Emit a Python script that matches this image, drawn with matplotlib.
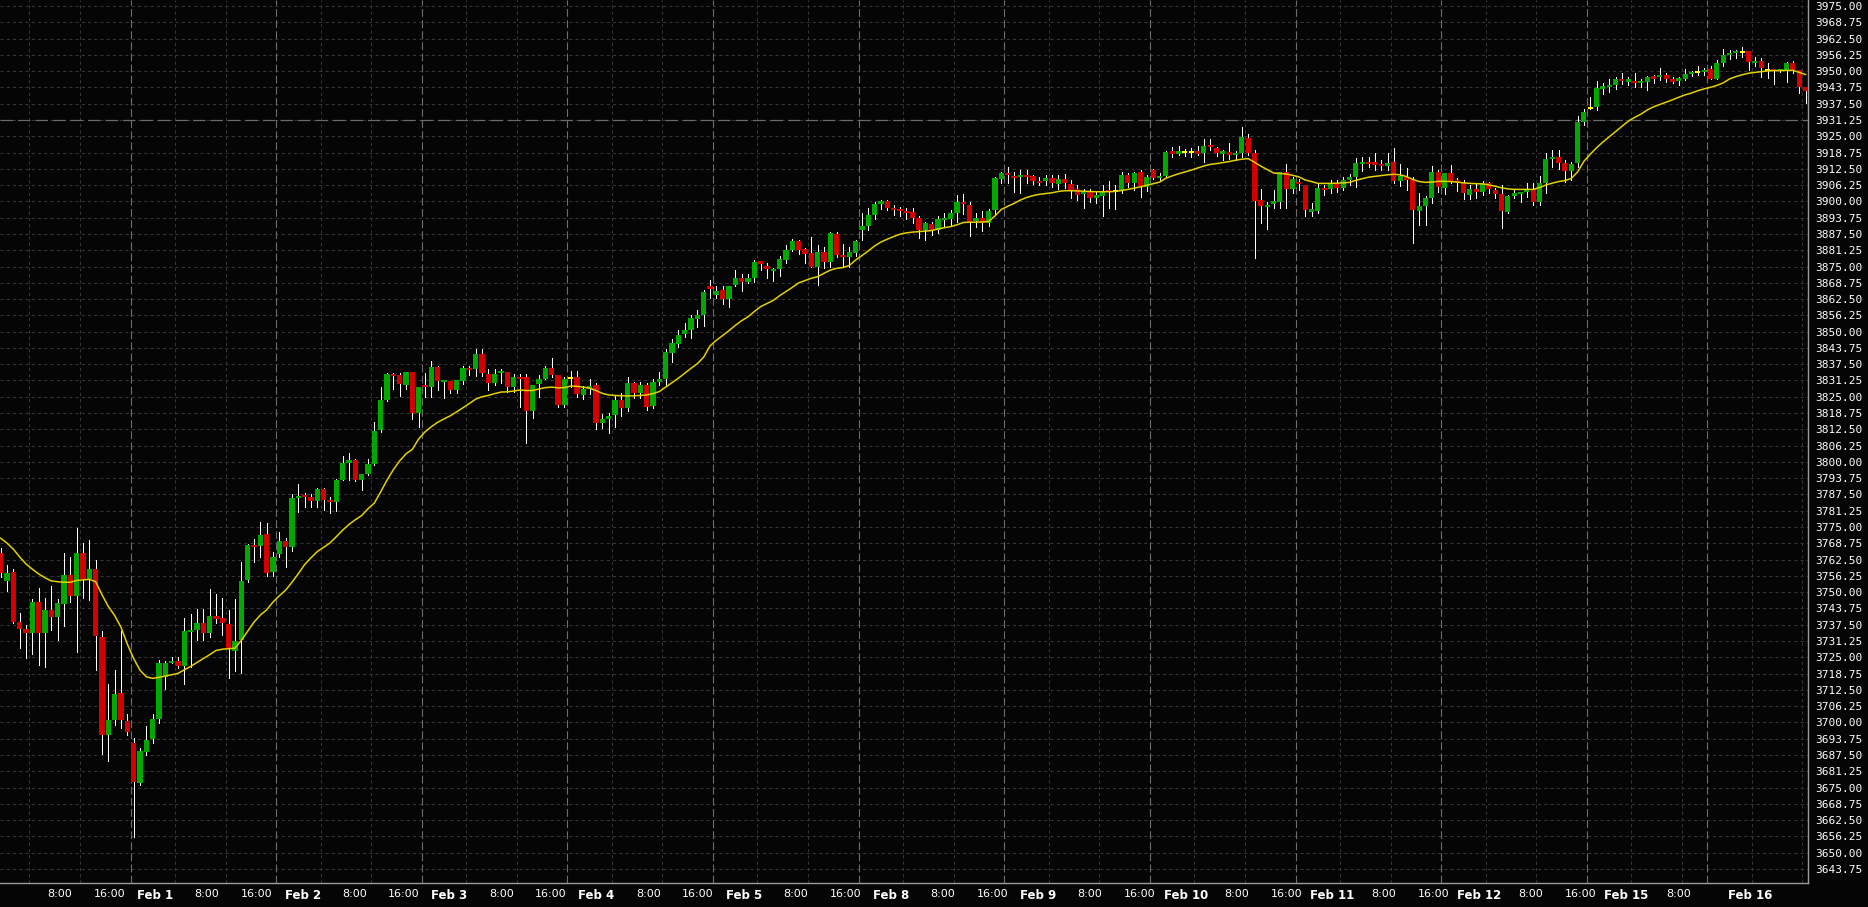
from matplotlib import pyplot as plt

# hourly candles, index 0 = first visible bar (Jan 29)
opens = [
    3765.0, 3754.3, 3757.7, 3738.5, 3735.9, 3734.5, 3746.2, 3734.5, 3743.1, 3740.6,
    3745.6, 3756.6, 3748.7, 3765.2, 3755.0, 3758.9, 3732.8, 3695.2, 3700.9, 3711.3,
    3700.5, 3692.2, 3676.7, 3688.8, 3693.5, 3701.3, 3717.6, 3722.9, 3723.4, 3721.7,
    3734.7, 3735.5, 3738.0, 3734.5, 3740.9, 3740.1, 3737.8, 3727.5, 3731.6, 3754.6,
    3768.1, 3767.8, 3772.3, 3757.6, 3764.6, 3769.6, 3767.4, 3786.2, 3787.4, 3786.4,
    3785.0, 3789.6, 3785.3, 3784.6, 3793.0, 3799.7, 3800.9, 3793.0, 3795.3, 3799.2,
    3812.2, 3823.7, 3833.7, 3833.3, 3829.5, 3834.5, 3818.6, 3829.5, 3828.8, 3836.3,
    3830.8, 3831.0, 3827.6, 3831.2, 3836.0, 3835.5, 3841.6, 3833.7, 3830.4, 3834.3,
    3834.5, 3828.8, 3832.4, 3832.4, 3819.6, 3829.9, 3831.7, 3835.9, 3833.2, 3821.8,
    3832.2, 3832.4, 3825.6, 3828.0, 3829.5, 3815.1, 3816.3, 3818.0, 3823.7, 3820.8,
    3830.1, 3826.3, 3829.4, 3821.4, 3830.8, 3831.8, 3841.9, 3845.2, 3849.1, 3850.6,
    3855.0, 3856.4, 3867.5, 3864.1, 3866.0, 3862.5, 3867.8, 3870.7, 3869.2, 3870.7,
    3877.1, 3875.2, 3873.4, 3874.0, 3877.5, 3881.3, 3884.8, 3881.7, 3880.3, 3874.9,
    3880.6, 3876.9, 3887.5, 3879.4, 3878.8, 3880.3, 3889.0, 3890.5, 3894.8, 3899.1,
    3900.1, 3897.6, 3897.2, 3896.3, 3895.9, 3893.7, 3889.0, 3891.3, 3889.0, 3893.0,
    3893.2, 3895.4, 3899.9, 3898.6, 3892.5, 3893.7, 3891.6, 3896.7, 3908.4, 3910.8,
    3909.7, 3909.2, 3910.1, 3909.9, 3907.9, 3907.9, 3909.1, 3906.5, 3908.6, 3906.7,
    3904.8, 3902.7, 3903.7, 3901.4, 3902.1, 3904.4, 3903.9, 3904.4, 3910.1, 3906.9,
    3911.1, 3905.6, 3912.0, 3909.1, 3909.9, 3919.1, 3918.4, 3918.8, 3918.8, 3919.3,
    3918.4, 3921.4, 3920.5, 3918.4, 3919.0, 3917.9, 3918.4, 3924.5, 3918.4, 3900.5,
    3897.9, 3898.9, 3899.9, 3911.4, 3904.7, 3907.2, 3906.3, 3896.2, 3896.3, 3905.3,
    3904.7, 3906.9, 3905.3, 3908.2, 3909.5, 3914.6, 3915.2, 3915.2, 3914.4, 3913.6,
    3915.0, 3907.8, 3909.5, 3908.2, 3896.4, 3898.2, 3901.4, 3911.4, 3905.3, 3910.8,
    3908.2, 3907.2, 3902.4, 3904.7, 3903.7, 3907.2, 3904.4, 3902.7, 3896.0, 3902.1,
    3903.1, 3903.7, 3904.6, 3899.9, 3906.9, 3916.1, 3916.9, 3914.6, 3911.8, 3914.9,
    3930.6, 3935.9, 3936.4, 3943.4, 3944.0, 3944.7, 3946.9, 3946.2, 3946.2, 3945.6,
    3945.9, 3947.9, 3947.9, 3948.5, 3947.0, 3946.2, 3947.0, 3948.8, 3949.8, 3949.7,
    3950.8, 3947.0, 3953.3, 3956.2, 3957.1, 3957.5, 3957.7, 3953.0, 3953.9, 3950.4,
    3950.7, 3950.2, 3950.4, 3953.2, 3950.4, 3943.8,
]

highs = [
    3767.0, 3760.4, 3758.9, 3741.9, 3737.3, 3747.4, 3751.5, 3747.9, 3752.4, 3747.4,
    3765.2, 3763.6, 3774.6, 3768.7, 3770.0, 3762.3, 3735.1, 3714.7, 3720.1, 3735.1,
    3703.1, 3693.9, 3690.3, 3698.6, 3703.2, 3724.0, 3723.6, 3725.2, 3725.2, 3740.0,
    3741.5, 3743.4, 3743.4, 3751.2, 3749.3, 3747.6, 3743.1, 3747.4, 3761.6, 3768.5,
    3770.4, 3776.8, 3776.4, 3765.5, 3773.1, 3770.6, 3787.6, 3791.7, 3787.9, 3787.5,
    3790.0, 3790.0, 3786.6, 3793.5, 3802.2, 3803.5, 3801.0, 3795.5, 3801.2, 3815.3,
    3828.6, 3834.2, 3834.2, 3834.2, 3834.5, 3834.6, 3828.9, 3834.0, 3838.8, 3836.8,
    3831.6, 3831.2, 3831.6, 3836.8, 3836.8, 3843.3, 3843.3, 3835.5, 3835.5, 3835.5,
    3834.6, 3833.7, 3833.7, 3833.7, 3829.5, 3833.3, 3836.8, 3839.7, 3833.3, 3832.4,
    3835.0, 3835.0, 3829.1, 3831.7, 3830.4, 3818.2, 3818.9, 3825.3, 3826.3, 3832.7,
    3830.5, 3830.8, 3830.1, 3831.9, 3834.5, 3843.5, 3847.0, 3850.6, 3853.4, 3856.4,
    3858.3, 3866.0, 3869.8, 3867.5, 3867.5, 3867.5, 3873.7, 3872.1, 3872.0, 3877.5,
    3877.1, 3876.2, 3874.5, 3879.0, 3883.2, 3885.4, 3885.2, 3882.0, 3886.2, 3883.2,
    3882.6, 3888.4, 3888.4, 3883.6, 3882.6, 3885.2, 3895.4, 3897.3, 3899.9, 3900.5,
    3900.5, 3898.6, 3898.0, 3897.6, 3897.6, 3894.4, 3892.2, 3892.0, 3894.4, 3895.4,
    3896.7, 3902.4, 3902.8, 3899.9, 3895.4, 3896.3, 3896.9, 3909.5, 3911.4, 3913.1,
    3911.4, 3912.0, 3912.0, 3910.1, 3909.2, 3910.1, 3910.1, 3910.1, 3910.4, 3908.2,
    3906.3, 3904.6, 3904.6, 3904.1, 3906.3, 3907.8, 3906.3, 3911.4, 3911.0, 3911.4,
    3912.0, 3910.1, 3912.3, 3910.8, 3919.5, 3921.0, 3921.3, 3920.2, 3920.4, 3921.4,
    3924.0, 3924.0, 3921.0, 3919.7, 3922.3, 3919.2, 3928.7, 3925.9, 3919.7, 3904.7,
    3899.9, 3904.4, 3911.4, 3914.3, 3909.5, 3908.5, 3906.3, 3899.2, 3906.9, 3906.3,
    3908.2, 3908.2, 3909.5, 3910.5, 3916.5, 3916.9, 3916.9, 3918.7, 3915.9, 3918.4,
    3920.4, 3914.2, 3912.7, 3909.5, 3903.1, 3902.1, 3913.6, 3912.0, 3911.0, 3914.0,
    3908.8, 3908.2, 3906.3, 3906.9, 3907.8, 3907.6, 3905.0, 3906.3, 3902.4, 3904.4,
    3903.7, 3906.9, 3906.9, 3909.7, 3918.7, 3919.7, 3919.7, 3915.9, 3915.2, 3932.9,
    3935.3, 3940.2, 3946.2, 3945.3, 3946.9, 3947.9, 3949.2, 3947.9, 3949.2, 3946.9,
    3948.1, 3948.5, 3951.1, 3949.2, 3947.9, 3947.9, 3950.7, 3950.2, 3952.0, 3951.1,
    3952.1, 3954.3, 3958.5, 3958.1, 3958.1, 3959.4, 3957.7, 3955.5, 3955.2, 3953.0,
    3950.7, 3951.0, 3953.5, 3954.0, 3950.4, 3943.8,
]

lows = [
    3756.0, 3750.6, 3738.0, 3728.7, 3724.9, 3726.3, 3722.0, 3721.4, 3735.5, 3731.8,
    3737.1, 3746.3, 3727.2, 3747.6, 3747.0, 3720.1, 3687.9, 3685.3, 3699.0, 3697.7,
    3695.2, 3656.1, 3676.0, 3687.5, 3692.2, 3699.9, 3712.8, 3722.7, 3721.0, 3714.7,
    3721.4, 3731.6, 3731.6, 3732.9, 3738.0, 3733.6, 3716.9, 3719.7, 3719.1, 3754.0,
    3761.4, 3763.6, 3756.3, 3756.3, 3763.6, 3759.8, 3765.9, 3780.9, 3782.8, 3782.8,
    3782.8, 3781.5, 3780.5, 3781.2, 3793.0, 3793.0, 3792.6, 3789.2, 3794.9, 3798.8,
    3811.6, 3823.5, 3827.8, 3825.3, 3827.8, 3816.3, 3813.2, 3825.0, 3825.0, 3827.6,
    3824.4, 3826.5, 3826.3, 3829.9, 3833.3, 3833.1, 3833.1, 3827.6, 3829.5, 3830.4,
    3826.9, 3826.9, 3820.9, 3807.4, 3816.7, 3825.0, 3831.7, 3832.7, 3821.2, 3820.9,
    3828.9, 3825.0, 3824.1, 3826.0, 3812.8, 3812.9, 3810.9, 3813.5, 3817.7, 3819.6,
    3824.4, 3824.4, 3819.9, 3820.7, 3829.5, 3829.1, 3838.2, 3844.2, 3848.1, 3847.4,
    3851.9, 3852.2, 3862.8, 3862.8, 3860.6, 3859.6, 3867.5, 3865.6, 3868.5, 3869.2,
    3873.7, 3870.7, 3869.4, 3871.3, 3876.5, 3881.1, 3879.8, 3876.2, 3874.7, 3867.9,
    3874.3, 3874.7, 3878.8, 3874.9, 3874.7, 3879.0, 3885.2, 3889.0, 3893.1, 3896.9,
    3896.7, 3894.8, 3894.4, 3893.1, 3891.8, 3885.8, 3885.2, 3887.1, 3888.0, 3890.5,
    3890.5, 3892.2, 3895.1, 3886.7, 3890.3, 3888.6, 3890.5, 3895.1, 3907.2, 3906.9,
    3903.7, 3903.3, 3906.9, 3906.5, 3906.3, 3906.3, 3905.6, 3904.6, 3905.0, 3901.4,
    3900.5, 3897.3, 3899.9, 3899.2, 3894.5, 3897.3, 3897.0, 3903.1, 3905.6, 3904.4,
    3901.8, 3904.0, 3908.5, 3908.2, 3909.2, 3917.2, 3917.8, 3917.4, 3917.0, 3917.7,
    3915.2, 3919.7, 3917.4, 3915.9, 3916.1, 3915.9, 3917.2, 3917.8, 3878.1, 3891.8,
    3889.4, 3897.6, 3897.3, 3897.3, 3903.1, 3904.4, 3894.5, 3894.4, 3895.7, 3902.4,
    3903.1, 3903.6, 3904.4, 3906.3, 3905.6, 3911.8, 3913.3, 3912.0, 3912.0, 3912.0,
    3906.9, 3905.9, 3904.4, 3884.1, 3890.9, 3890.9, 3899.5, 3903.7, 3902.8, 3907.2,
    3904.1, 3900.8, 3900.8, 3901.2, 3902.4, 3903.1, 3901.2, 3889.9, 3895.4, 3901.2,
    3899.6, 3901.8, 3898.6, 3898.6, 3903.3, 3913.3, 3912.3, 3907.6, 3908.2, 3913.1,
    3929.3, 3935.3, 3935.1, 3941.2, 3942.1, 3943.0, 3945.1, 3944.7, 3944.0, 3944.0,
    3942.8, 3945.3, 3946.6, 3946.0, 3945.3, 3944.7, 3946.6, 3948.3, 3948.5, 3948.5,
    3947.0, 3946.9, 3951.9, 3954.5, 3954.9, 3955.6, 3950.4, 3952.0, 3947.6, 3947.5,
    3944.9, 3949.5, 3946.0, 3949.2, 3941.7, 3937.9,
]

closes = [
    3757.5, 3757.5, 3738.7, 3735.9, 3734.5, 3746.2, 3734.5, 3743.1, 3740.6, 3745.8,
    3756.6, 3748.7, 3765.2, 3755.0, 3758.9, 3733.3, 3695.2, 3700.9, 3711.0, 3700.9,
    3696.3, 3677.3, 3689.1, 3693.2, 3701.3, 3722.9, 3722.7, 3723.4, 3721.7, 3735.1,
    3735.5, 3738.0, 3734.5, 3740.9, 3739.7, 3738.0, 3728.2, 3731.4, 3754.3, 3768.1,
    3767.4, 3771.9, 3757.2, 3763.6, 3769.6, 3767.4, 3786.0, 3787.0, 3786.6, 3785.0,
    3789.6, 3785.3, 3784.6, 3793.0, 3799.4, 3800.9, 3793.0, 3795.3, 3799.2, 3811.8,
    3823.7, 3833.7, 3832.9, 3829.9, 3834.5, 3818.6, 3828.6, 3828.8, 3836.3, 3831.2,
    3831.4, 3827.6, 3831.4, 3836.0, 3835.5, 3841.6, 3834.0, 3830.4, 3833.7, 3834.7,
    3828.6, 3832.4, 3831.8, 3819.6, 3829.5, 3831.7, 3835.9, 3833.3, 3821.8, 3831.7,
    3832.2, 3826.0, 3828.0, 3829.3, 3815.0, 3816.3, 3817.6, 3823.7, 3820.8, 3830.1,
    3826.3, 3829.4, 3821.2, 3830.6, 3831.8, 3842.2, 3845.6, 3848.7, 3850.6, 3855.4,
    3856.5, 3865.2, 3866.4, 3865.6, 3862.5, 3867.5, 3870.7, 3869.2, 3870.7, 3876.9,
    3875.8, 3873.9, 3874.2, 3877.9, 3881.3, 3884.8, 3881.3, 3879.8, 3874.9, 3880.6,
    3876.9, 3888.0, 3879.5, 3878.5, 3880.7, 3884.8, 3890.5, 3894.8, 3899.0, 3900.1,
    3897.6, 3896.7, 3896.3, 3895.7, 3893.7, 3889.0, 3891.7, 3889.0, 3893.1, 3893.7,
    3895.4, 3899.9, 3899.2, 3892.2, 3893.7, 3891.6, 3896.3, 3908.8, 3910.8, 3910.1,
    3909.2, 3910.1, 3909.5, 3907.9, 3907.2, 3909.1, 3906.9, 3908.6, 3906.9, 3904.4,
    3902.4, 3904.0, 3901.4, 3902.4, 3904.0, 3903.7, 3903.9, 3910.1, 3907.2, 3911.0,
    3906.0, 3909.2, 3909.1, 3909.9, 3919.1, 3918.4, 3919.1, 3918.8, 3918.8, 3918.1,
    3921.4, 3920.8, 3918.7, 3919.1, 3917.9, 3918.7, 3924.6, 3918.4, 3900.1, 3898.2,
    3898.6, 3900.1, 3911.1, 3904.7, 3908.5, 3906.7, 3896.7, 3896.8, 3905.3, 3904.4,
    3906.9, 3905.3, 3908.2, 3909.5, 3914.6, 3915.2, 3914.4, 3914.0, 3913.6, 3914.7,
    3907.8, 3909.7, 3908.2, 3896.7, 3898.2, 3901.4, 3911.4, 3905.6, 3910.8, 3907.8,
    3907.2, 3903.1, 3904.7, 3903.7, 3906.9, 3904.6, 3902.8, 3896.4, 3902.1, 3903.3,
    3903.6, 3904.4, 3899.9, 3906.9, 3916.1, 3916.9, 3914.9, 3911.8, 3914.4, 3930.6,
    3934.4, 3935.9, 3943.6, 3944.0, 3944.7, 3946.9, 3946.2, 3946.6, 3945.6, 3946.0,
    3947.9, 3947.2, 3948.5, 3947.0, 3946.0, 3947.2, 3948.8, 3949.7, 3949.8, 3950.4,
    3947.0, 3953.3, 3956.2, 3957.1, 3957.7, 3957.5, 3953.6, 3953.9, 3951.3, 3950.4,
    3950.2, 3950.6, 3953.2, 3950.4, 3943.8, 3942.4,
]

# moving average line
ma = [
    3770.7, 3768.8, 3766.5, 3763.5, 3760.8, 3758.8, 3757.0, 3755.5, 3754.3, 3754.0,
    3753.8, 3753.8, 3754.5, 3754.7, 3754.9, 3754.0, 3749.0, 3744.5, 3741.0, 3736.5,
    3730.0, 3724.5, 3720.0, 3717.5, 3716.9, 3717.3, 3717.8, 3718.3, 3718.8, 3720.2,
    3721.5, 3723.0, 3724.5, 3726.0, 3727.6, 3728.1, 3728.3, 3728.5, 3731.5, 3735.0,
    3738.5, 3741.2, 3743.2, 3746.2, 3748.6, 3750.8, 3753.8, 3757.1, 3760.6, 3763.2,
    3765.6, 3767.2, 3768.9, 3771.3, 3773.8, 3776.0, 3777.8, 3779.4, 3782.0, 3784.2,
    3788.5, 3793.0, 3797.0, 3800.4, 3803.1, 3804.8, 3808.8, 3811.5, 3813.5, 3815.2,
    3816.5, 3817.7, 3819.2, 3820.8, 3822.4, 3824.1, 3825.0, 3825.5, 3826.2, 3826.8,
    3826.9, 3827.2, 3827.6, 3827.4, 3827.4, 3828.0, 3828.5, 3828.7, 3828.4, 3828.5,
    3829.1, 3829.0, 3828.7, 3828.3, 3827.4, 3826.3, 3825.7, 3825.5, 3825.4, 3825.3,
    3825.4, 3825.5, 3825.7, 3826.2, 3827.0, 3828.7, 3830.4, 3832.1, 3834.0, 3835.9,
    3837.7, 3840.2, 3844.5, 3846.7, 3848.5, 3850.4, 3852.4, 3854.2, 3855.7, 3857.7,
    3859.6, 3860.8, 3862.0, 3863.8, 3865.4, 3867.0, 3868.7, 3869.6, 3870.5, 3871.1,
    3872.4, 3873.6, 3874.3, 3874.6, 3875.4, 3877.5, 3879.2, 3881.0, 3882.9, 3884.4,
    3885.5, 3886.5, 3887.4, 3887.9, 3888.2, 3888.4, 3888.6, 3888.8, 3889.4, 3889.9,
    3890.3, 3891.0, 3891.9, 3892.0, 3892.0, 3892.1, 3892.3, 3894.4, 3896.9, 3898.1,
    3899.2, 3900.5, 3901.5, 3902.2, 3902.7, 3903.0, 3903.3, 3903.8, 3904.1, 3904.1,
    3904.0, 3903.9, 3903.8, 3903.7, 3903.7, 3903.7, 3903.8, 3904.2, 3904.6, 3905.1,
    3905.6, 3906.2, 3906.8, 3907.4, 3908.9, 3909.8, 3910.6, 3911.3, 3912.0, 3912.8,
    3913.6, 3914.2, 3914.5, 3914.9, 3915.3, 3915.8, 3916.2, 3916.4, 3915.0, 3913.5,
    3912.2, 3910.9, 3910.7, 3910.5, 3910.0, 3909.4, 3908.2, 3907.6, 3906.9, 3906.9,
    3906.9, 3907.0, 3907.1, 3907.3, 3908.1, 3908.7, 3909.3, 3909.6, 3909.9, 3910.2,
    3910.4, 3910.2, 3909.5, 3908.4, 3907.6, 3907.3, 3907.4, 3907.7, 3907.7, 3907.6,
    3907.4, 3907.1, 3906.9, 3906.8, 3906.7, 3906.3, 3905.8, 3905.2, 3904.8, 3904.6,
    3904.6, 3904.6, 3904.6, 3905.3, 3906.3, 3907.0, 3907.6, 3908.0, 3908.8, 3911.3,
    3915.4, 3918.1, 3920.6, 3922.8, 3924.8, 3926.8, 3928.8, 3930.8, 3932.2, 3933.5,
    3935.1, 3936.3, 3937.2, 3938.1, 3939.0, 3940.0, 3940.9, 3941.6, 3942.5, 3943.2,
    3943.8, 3944.5, 3945.5, 3947.0, 3947.9, 3948.6, 3949.2, 3949.5, 3949.8, 3950.1,
    3950.2, 3950.2, 3950.3, 3950.3, 3949.5, 3948.7,
]

# first bar of each trading day (Feb 1 ... Feb 16)
day_starts = [21, 44, 67, 90, 113, 136, 159, 182, 205, 228, 251, 270]

time_labels = ["8:00", "16:00", "Feb 1", "8:00", "16:00", "Feb 2", "8:00", "16:00",
               "Feb 3", "8:00", "16:00", "Feb 4", "8:00", "16:00", "Feb 5", "8:00",
               "16:00", "Feb 8", "8:00", "16:00", "Feb 9", "8:00", "16:00", "Feb 10",
               "8:00", "16:00", "Feb 11", "8:00", "16:00", "Feb 12", "8:00", "16:00",
               "Feb 15", "8:00", "Feb 16"]
time_label_pos = [9.3, 17.2, 24.43, 32.5, 40.47, 47.7, 55.87, 63.68, 70.87, 79.11,
                  86.85, 94.05, 102.29, 110.11, 117.32, 125.58, 133.48, 140.58,
                  148.71, 156.69, 163.8, 172.0, 179.82, 187.24, 195.22, 203.11,
                  210.3, 218.35, 226.33, 233.51, 241.64, 249.54, 256.75, 265.01,
                  276.3]

price_ticks = [3643.75 + 6.25 * k for k in range(54)]
line_level = 3931.25

BG = '#050505'
UP = '#00a800'
DOWN = '#d40000'
DOJI = '#ffff00'

fig = plt.figure(figsize=(18.68, 9.07), dpi=100, facecolor=BG)
ax = fig.add_axes([0, 24 / 907, 1808 / 1868, 883 / 907], facecolor=BG)

x_max = 285.38
ax.set_xlim(-0.11, x_max)
ax.set_ylim(3638.35, 3977.3)

# grid
for y in price_ticks:
    ax.axhline(y, color='#363636', lw=0.75, ls=(0, (3, 3)), zorder=0)
for d in [-2] + day_starts:
    for off in (6.5, 14.5):
        if d + off < x_max:
            ax.axvline(d + off, color='#363636', lw=0.75, ls=(0, (3, 3)), zorder=0)
for d in day_starts:
    ax.axvline(d - 0.5, color='#6e6e6e', lw=0.8, ls=(0, (7, 3)), zorder=0)
ax.axhline(line_level, color='#6a6a6a', lw=0.9, ls=(0, (10, 4)), zorder=1)

# candles
xs = list(range(len(closes)))
ax.vlines(xs, lows, highs, color='white', lw=0.72, antialiased=False, zorder=2)

bottoms, heights, colors = [], [], []
for o, c in zip(opens, closes):
    if c > o:
        colors.append(UP)
    elif c < o:
        colors.append(DOWN)
    else:
        colors.append(DOJI)
    h = abs(c - o)
    b = min(o, c)
    if h < 0.8:
        b = (o + c) / 2 - 0.4
        h = 0.8
    bottoms.append(b)
    heights.append(h)
ax.bar(xs, heights, bottom=bottoms, width=0.8, color=colors, linewidth=0, zorder=3)

ax.plot(xs, ma, color='#e2d000', lw=1.1, zorder=4)

# axes
for side in ('top', 'left'):
    ax.spines[side].set_visible(False)
for side in ('right', 'bottom'):
    ax.spines[side].set_color('#9a9a9a')
    ax.spines[side].set_linewidth(1.0)

ax.yaxis.tick_right()
ax.set_yticks(price_ticks)
ax.set_yticklabels([f"{v:.2f}" for v in price_ticks], family='DejaVu Sans Mono',
                   fontsize=8, color='white')
ax.tick_params(axis='y', length=0, pad=5)

ax.set_xticks(time_label_pos)
ax.set_xticklabels(time_labels, color='white', fontsize=8)
ax.tick_params(axis='x', length=0, pad=4)
for lab in ax.get_xticklabels():
    if lab.get_text().startswith('Feb'):
        lab.set_fontweight('bold')
        lab.set_fontsize(8.5)

fig.savefig('out.png', dpi=100, facecolor=BG)
